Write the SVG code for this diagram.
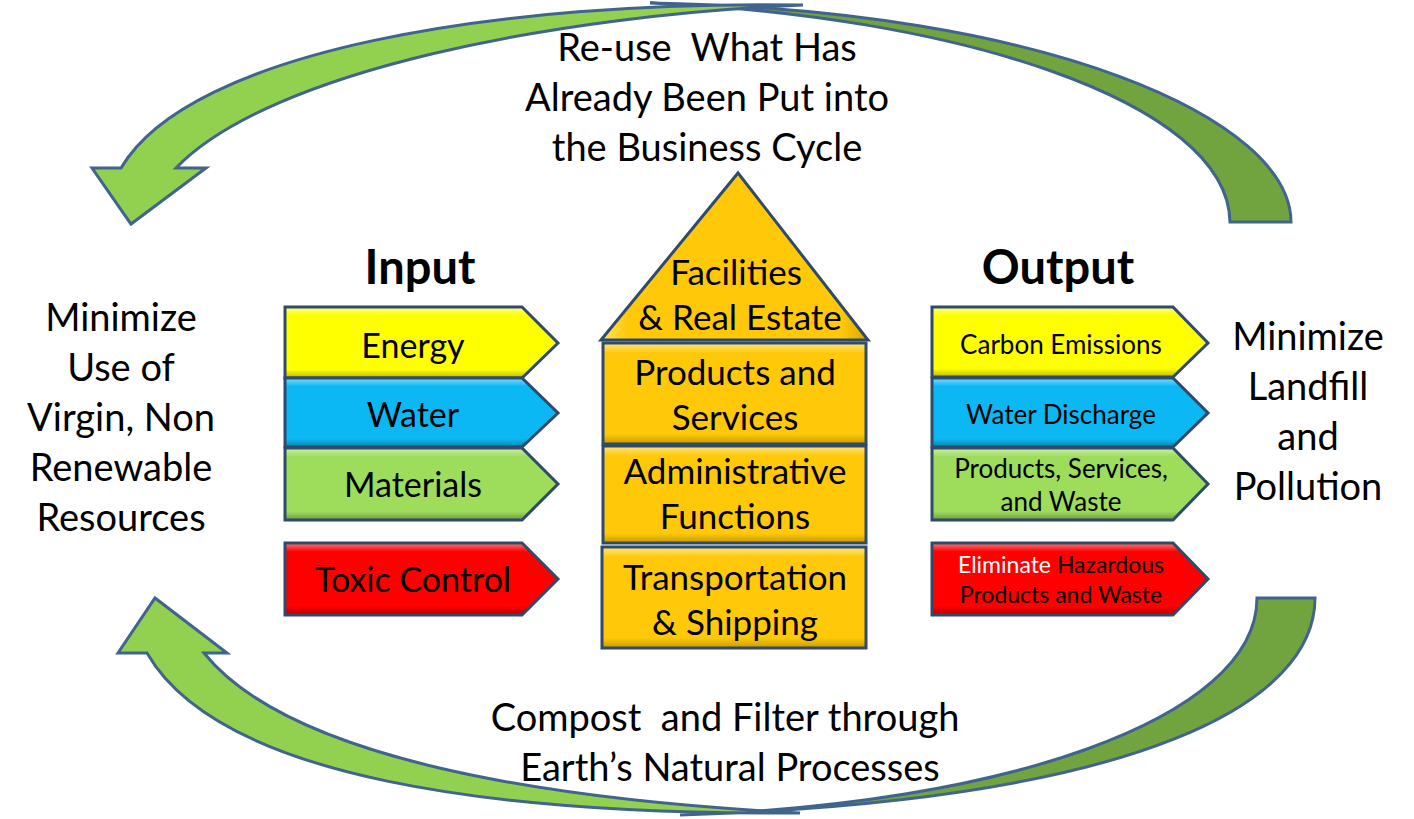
<svg xmlns="http://www.w3.org/2000/svg" width="1414" height="819" viewBox="0 0 1414 819">
<defs>
<style>
text{font-family:Lato,"Liberation Sans",sans-serif;fill:#000;text-anchor:middle;white-space:pre}
.big{font-size:38px}
.ttl{font-size:47px;font-weight:bold}
.in{font-size:34px}
.hs{font-size:35px}
.out{font-size:26px}
.red{font-size:23px}
.box{stroke:#2F4A6B;stroke-width:3;stroke-linejoin:miter}
.arrowL{fill:#92D050;stroke:#41648F;stroke-width:3;stroke-linejoin:miter}
.arrowD{fill:#71A33F;stroke:#41648F;stroke-width:3;stroke-linejoin:miter}
</style>
<linearGradient id="gY" x1="0" y1="0" x2="0" y2="1"><stop offset="0" stop-color="#FFFF99"/><stop offset="0.12" stop-color="#FFFF00"/><stop offset="0.88" stop-color="#FFFF00"/><stop offset="1" stop-color="#B8B800"/></linearGradient>
<linearGradient id="gB" x1="0" y1="0" x2="0" y2="1"><stop offset="0" stop-color="#7FDBFF"/><stop offset="0.12" stop-color="#0CB8F4"/><stop offset="0.88" stop-color="#0CB8F4"/><stop offset="1" stop-color="#0885B0"/></linearGradient>
<linearGradient id="gG" x1="0" y1="0" x2="0" y2="1"><stop offset="0" stop-color="#CDF0A8"/><stop offset="0.12" stop-color="#9EDC5C"/><stop offset="0.88" stop-color="#9EDC5C"/><stop offset="1" stop-color="#6E9F3E"/></linearGradient>
<linearGradient id="gR" x1="0" y1="0" x2="0" y2="1"><stop offset="0" stop-color="#FF7A7A"/><stop offset="0.12" stop-color="#FF0000"/><stop offset="0.88" stop-color="#FF0000"/><stop offset="1" stop-color="#B00000"/></linearGradient>
<linearGradient id="gO" x1="0" y1="0" x2="0" y2="1"><stop offset="0" stop-color="#FFE680"/><stop offset="0.1" stop-color="#FFC90A"/><stop offset="0.9" stop-color="#FFC90A"/><stop offset="1" stop-color="#C79A00"/></linearGradient>
<linearGradient id="gT" x1="0" y1="0" x2="1" y2="0"><stop offset="0" stop-color="#FFE35A"/><stop offset="0.1" stop-color="#FFC90A"/><stop offset="0.9" stop-color="#FFC90A"/><stop offset="1" stop-color="#D9A500"/></linearGradient>
</defs>

<g id="connectors">
  <path class="arrowD" d="M 1291 222 C 1291 120 1050 10 650 3 C 950 15 1228 100 1230 222 Z"/>
  <path class="arrowL" d="M 121 168 C 190 50 500 0 803 5 C 560 15 270 70 176 168 L 206 168 L 131 224 L 92 168 Z"/>
  <path class="arrowD" d="M 1315 598 C 1315 700 1150 800 680 815 C 1000 805 1257 720 1257 598 Z"/>
  <path class="arrowL" d="M 147 653 C 220 780 500 815 800 813 C 550 800 290 760 204 653 L 227 653 L 155 598 L 118 653 Z"/>
</g>

<g id="label-top">
  <text class="big" x="707" y="61">Re-use  What Has</text>
  <text class="big" x="707" y="111">Already Been Put into</text>
  <text class="big" x="707" y="161">the Business Cycle</text>
</g>
<g id="label-bottom">
  <text class="big" x="725" y="731">Compost  and Filter through</text>
  <text class="big" x="730" y="781">Earth’s Natural Processes</text>
</g>
<g id="label-left">
  <text class="big" x="121" y="331">Minimize</text>
  <text class="big" x="121" y="381">Use of</text>
  <text class="big" x="121" y="431">Virgin, Non</text>
  <text class="big" x="121" y="481">Renewable</text>
  <text class="big" x="121" y="531">Resources</text>
</g>
<g id="label-right">
  <text class="big" x="1308" y="350">Minimize</text>
  <text class="big" x="1308" y="400">Landfill</text>
  <text class="big" x="1308" y="450">and</text>
  <text class="big" x="1308" y="500">Pollution</text>
</g>

<g id="input-title"><text class="ttl" x="420" y="284">Input</text></g>
<g id="output-title"><text class="ttl" x="1058" y="284">Output</text></g>

<g id="in-energy">
  <polygon class="box" fill="url(#gY)" points="285,307 522,307 558,343 522,378 285,378"/>
  <text class="in" x="413" y="358">Energy</text>
</g>
<g id="in-water">
  <polygon class="box" fill="url(#gB)" points="285,378 522,378 558,413 522,447 285,447"/>
  <text class="in" x="413" y="427">Water</text>
</g>
<g id="in-materials">
  <polygon class="box" fill="url(#gG)" points="285,448 522,448 558,484 522,520 285,520"/>
  <text class="in" x="413" y="497">Materials</text>
</g>
<g id="in-toxic">
  <polygon class="box" fill="url(#gR)" points="285,543 522,543 558,579 522,615 285,615"/>
  <text class="in" x="413" y="592">Toxic Control</text>
</g>

<g id="house-roof">
  <polygon class="box" fill="url(#gT)" points="601,340 738,173 868,340"/>
  <text class="hs" x="736" y="285">Facilities</text>
  <text class="hs" x="740" y="330">&amp; Real Estate</text>
</g>
<g id="house-products">
  <rect class="box" fill="url(#gO)" x="603" y="343" width="263" height="101"/>
  <text class="hs" x="735" y="385">Products and</text>
  <text class="hs" x="735" y="430">Services</text>
</g>
<g id="house-admin">
  <rect class="box" fill="url(#gO)" x="603" y="446" width="263" height="97"/>
  <text class="hs" x="735" y="484">Administrative</text>
  <text class="hs" x="735" y="529">Functions</text>
</g>
<g id="house-transport">
  <rect class="box" fill="url(#gO)" x="602" y="547" width="264" height="101"/>
  <text class="hs" x="735" y="590">Transportation</text>
  <text class="hs" x="735" y="635">&amp; Shipping</text>
</g>

<g id="out-carbon">
  <polygon class="box" fill="url(#gY)" points="932,307 1173,307 1208,343 1173,377 932,377"/>
  <text class="out" x="1061" y="354">Carbon Emissions</text>
</g>
<g id="out-water">
  <polygon class="box" fill="url(#gB)" points="932,378 1173,378 1208,413 1173,447 932,447"/>
  <text class="out" x="1061" y="424">Water Discharge</text>
</g>
<g id="out-products">
  <polygon class="box" fill="url(#gG)" points="932,448 1173,448 1208,484 1173,520 932,520"/>
  <text class="out" x="1061" y="478">Products, Services,</text>
  <text class="out" x="1061" y="511">and Waste</text>
</g>
<g id="out-hazard">
  <polygon class="box" fill="url(#gR)" points="932,543 1173,543 1208,579 1173,615 932,615"/>
  <text class="red" x="1061" y="573"><tspan fill="#FFFFFF">Eliminate</tspan> Hazardous</text>
  <text class="red" x="1061" y="603">Products and Waste</text>
</g>
</svg>
